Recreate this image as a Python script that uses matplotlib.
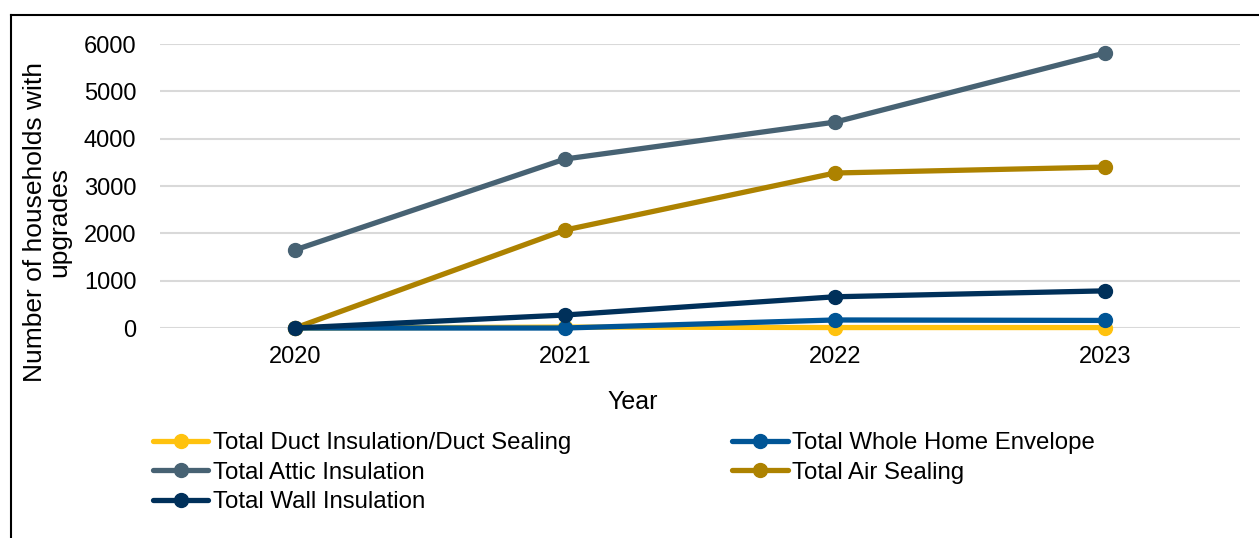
import matplotlib.pyplot as plt
from matplotlib.lines import Line2D

plt.rcParams["font.family"] = ["Liberation Sans", "DejaVu Sans"]

years = ["2020", "2021", "2022", "2023"]

duct_sealing = [0, 20, 10, 10]
whole_home = [0, 0, 170, 160]
attic_insulation = [1650, 3570, 4350, 5810]
air_sealing = [0, 2070, 3275, 3400]
wall_insulation = [0, 275, 660, 785]

series = [
    ("Total Duct Insulation/Duct Sealing", duct_sealing, "#FFC20E"),
    ("Total Whole Home Envelope", whole_home, "#005596"),
    ("Total Attic Insulation", attic_insulation, "#476273"),
    ("Total Air Sealing", air_sealing, "#AD8200"),
    ("Total Wall Insulation", wall_insulation, "#00305A"),
]

fig = plt.figure(figsize=(12.59, 5.38), dpi=100)
ax = fig.add_axes([0.1271, 0.3903, 0.8578, 0.5279])

x = range(len(years))
handles = {}
for nombre, valores, color in series:
    (linea,) = ax.plot(
        x, valores, color=color, linewidth=3.8, marker="o",
        markersize=10, solid_capstyle="round", clip_on=False, label=nombre,
    )
    handles[nombre] = linea

ax.set_xlim(-0.5, 3.5)
ax.set_ylim(0, 6000)
ax.set_xticks(list(x))
ax.set_xticklabels(years)
ax.set_yticks(range(0, 6001, 1000))
ax.tick_params(axis="both", length=0, labelsize=17)
ax.tick_params(axis="y", pad=17)
ax.tick_params(axis="x", pad=13)
ax.grid(axis="y", color="#D9D9D9", linewidth=1.5)
ax.set_axisbelow(True)
for lado in ["top", "right", "left", "bottom"]:
    ax.spines[lado].set_visible(False)

fig.text(633 / 1259, 1 - 402 / 538, "Year", ha="center", va="center", fontsize=18)
fig.text(47 / 1259, 1 - 222 / 538, "Number of households with\nupgrades", rotation=90,
         ha="center", va="center", fontsize=19, linespacing=1.0)

# orden por columnas para que las filas queden como en la serie original
orden = [
    "Total Duct Insulation/Duct Sealing",
    "Total Attic Insulation",
    "Total Wall Insulation",
    "Total Whole Home Envelope",
    "Total Air Sealing",
]
leg_handles = [
    Line2D([], [], color=handles[n].get_color(), linewidth=3.8,
           marker="o", markersize=10, solid_capstyle="round")
    for n in orden
]
fig.legend(
    leg_handles, orden, loc="upper left", bbox_to_anchor=(153 / 1259, 1 - 432 / 538),
    ncol=2, frameon=False, fontsize=17.3, handlelength=2.3,
    handletextpad=0.2, labelspacing=0.32, columnspacing=6.7,
    borderaxespad=0, borderpad=0,
)

# marco exterior
fig.add_artist(Line2D([11 / 1259, 1.0], [1 - 15 / 538, 1 - 15 / 538],
                      transform=fig.transFigure, color="black", linewidth=1.5))
fig.add_artist(Line2D([11 / 1259, 11 / 1259], [0, 1 - 15 / 538],
                      transform=fig.transFigure, color="black", linewidth=1.5))

fig.savefig("out.png", dpi=100)
